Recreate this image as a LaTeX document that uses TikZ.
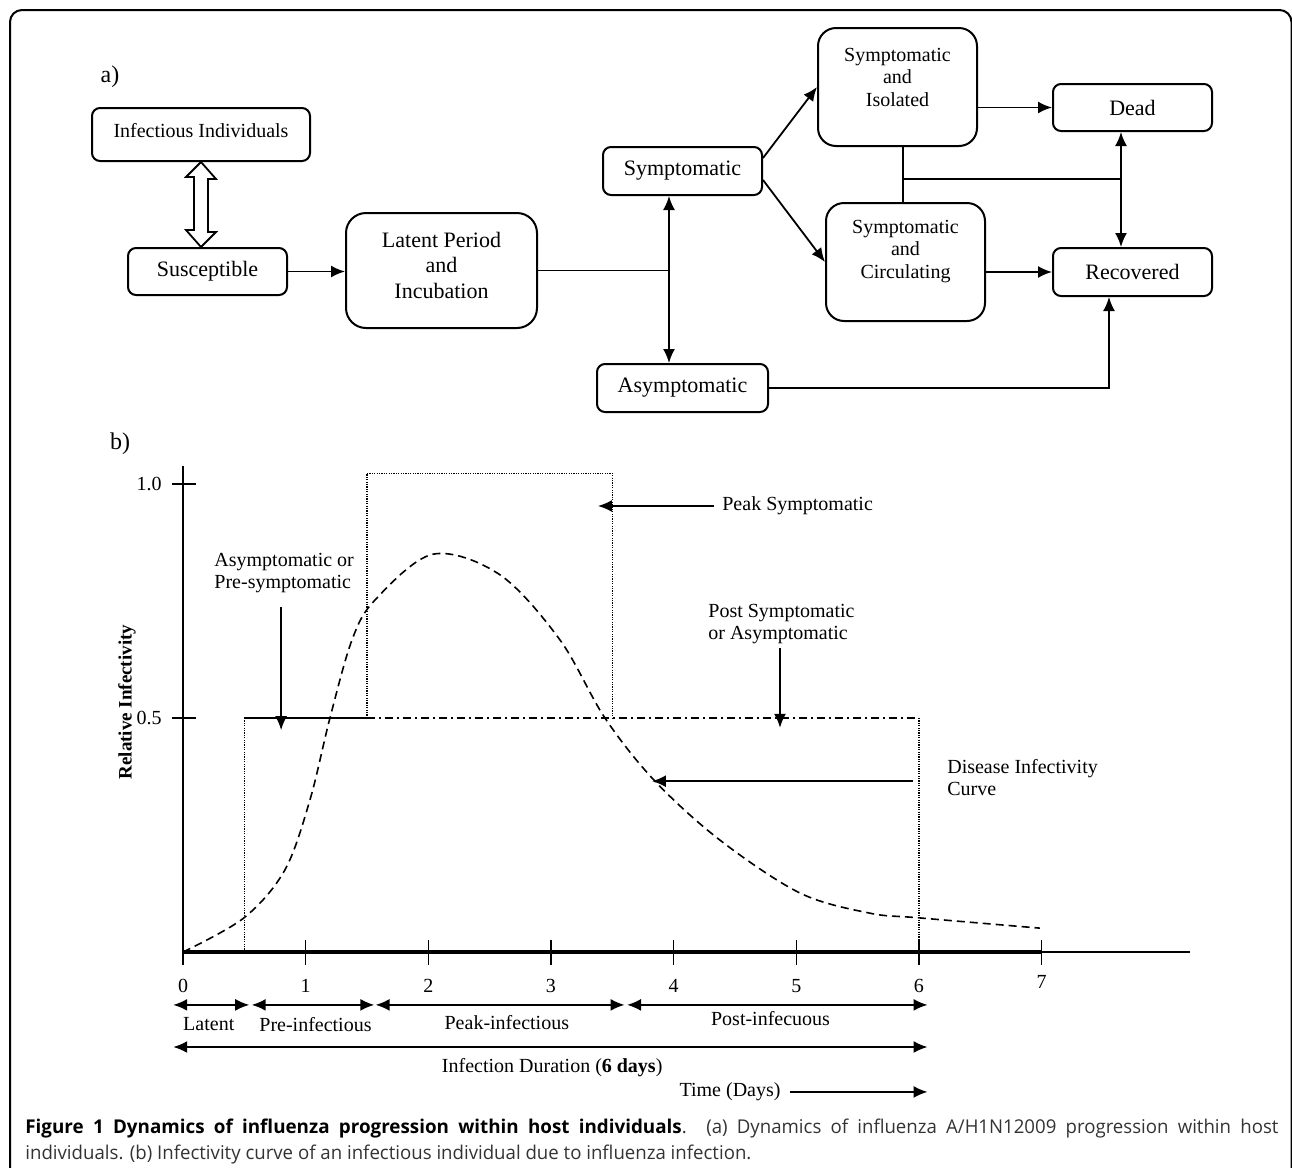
\documentclass[tikz,border=0pt]{standalone}
\usepackage{fontspec}
\setmainfont{Liberation Serif}
\newfontfamily\capfont[UprightFeatures={FakeStretch=0.98}, BoldFeatures={FakeStretch=0.99}]{Open Sans}
\usetikzlibrary{arrows.meta}
\newcommand{\padbelow}[1]{\rule[-#1]{0pt}{#1}}

\begin{document}
\begin{tikzpicture}[x=0.5pt, y=-0.5pt,
	>={Latex[length=7pt,width=6pt]},
	box/.style={draw, line width=1pt, rounded corners=4pt, align=center, inner sep=2pt, font=\fontsize{11}{12.75}\selectfont},
	tallbox/.style={box, rounded corners=9pt, minimum width=79.5pt, minimum height=59pt, font=\fontsize{10}{11.25}\selectfont},
	flow/.style={line width=0.9pt},
	span/.style={line width=0.9pt, {Latex[length=7pt,width=6pt]}-{Latex[length=7pt,width=6pt]}},
	lbl/.style={font=\fontsize{10}{11}\selectfont, align=left, inner sep=0pt},
	dots/.style={line width=0.6pt, dash pattern=on 0.6pt off 0.6pt},
	dashdots/.style={line width=0.8pt, dash pattern=on 4pt off 2pt on 1pt off 2pt},
	capline/.style={anchor=base west, inner sep=0pt, font=\capfont\fontsize{9.5}{13}\selectfont, text=black!80}]
	\useasboundingbox (0,0) rectangle (1292,1168);
	\draw[line width=1pt, rounded corners=6pt] (10,1168) -- (10,10) -- (1291.5,10) -- (1291.5,1168);

	\node[font=\fontsize{12}{14}\selectfont] (pa)at(110, 77) {a)};
	\node[box, minimum width=109pt, minimum height=26.5pt, font=\fontsize{10}{11}\selectfont] (inf)at(201, 134.5) {Infectious Individuals\padbelow{4.5pt}};
	\node[box, minimum width=79.5pt, minimum height=23.5pt] (sus)at(207.5, 271.5) {Susceptible};
	\node[box, rounded corners=10pt, minimum width=95.5pt, minimum height=57.5pt] (lat)at(441.5, 270.5) {Latent Period\\and\\Incubation\padbelow{5.5pt}};
	\node[box, minimum width=79.5pt, minimum height=24pt] (sym)at(682.5, 171) {Symptomatic};
	\node[box, minimum width=85.5pt, minimum height=24pt] (asym)at(682.5, 388) {Asymptomatic};
	\node[tallbox] (iso)at(897.5, 87) {Symptomatic\\and\\Isolated\padbelow{10pt}};
	\node[tallbox] (circ)at(905.5, 262) {Symptomatic\\and\\Circulating\padbelow{13pt}};
	\node[box, minimum width=79.5pt, minimum height=23.5pt] (dead)at(1132.5, 107.5) {Dead};
	\node[box, minimum width=79.5pt, minimum height=24pt] (rec)at(1132.5, 272) {Recovered};
	\coordinate (split)at(669, 270.5);
	\coordinate (merge)at(903, 179);
	\coordinate (fork)at(1121, 179);

	\draw[flow] (inf.south) -- ++(15,17) -- ++(-8,0) -- ++(0,53) -- ++(8,0) -- (inf.south |- sus.north) -- ++(-15,-17) -- ++(8,0) -- ++(0,-53) -- ++(-8,0) -- cycle;
	\draw[->, flow] (sus.east) -- (sus.east -| lat.west);
	\draw[flow] (lat.east) -- (split);
	\draw[<->, flow] (split |- sym.south) -- (split |- asym.north);
	\draw[->, flow] ([yshift=6.5pt]sym.east) -- (iso.west);
	\draw[->, flow] ([yshift=-4.5pt]sym.east) -- (circ.west);
	\draw[->, flow] (iso.east |- dead) -- (dead.west);
	\draw[->, flow] (circ.east |- rec) -- (rec.west);
	\draw[flow] (merge |- iso.south) -- (merge |- circ.north);
	\draw[flow] (merge) -- (fork);
	\draw[<->, flow] (fork |- dead.south) -- (fork |- rec.north);
	\draw[->, flow] (asym.east) -| ([xshift=-11.75pt]rec.south);

	\node[font=\fontsize{12}{14}\selectfont] (pb)at(120, 444) {b)};
	\begin{scope}[shift={(91.5pt,-476pt)}, x=61.33pt, y=234pt]
		\draw[line width=0.8pt] (0,1.038) -- (0,0);
		\draw[line width=1.6pt] (0,0) -- (7,0);
		\draw[line width=0.8pt] (7,0) -- (8.21,0);
		\draw[line width=0.8pt] (0,0) -- (0,-0.028);
		\foreach \d in {1,...,7}
			\draw[line width=0.8pt] (\d,0.026) -- (\d,-0.028);
		\foreach \d in {0,...,6}
			\node[lbl] (tick\d)at(\d, -0.073) {\d};
		\node[lbl] (tick7)at(7, -0.063) {7};
		\foreach \v in {0.5,1.0} {
			\draw[line width=0.8pt] (-0.09,\v) -- (0.106,\v);
			\node[lbl, anchor=east] (val\v)at(-0.171, \v) {\v};
		}
		\node[rotate=90, inner sep=0pt, font=\bfseries\fontsize{9.5}{11}\selectfont] (ylab)at(-0.456, 0.534) {Relative Infectivity};

		\draw[dots] (0.5,0) -- (0.5,0.5);
		\draw[line width=0.8pt] (0.5,0.5) -- (1.5,0.5);
		\draw[dots] (1.5,0.5) -- (1.5,1.023) -- (3.5,1.023) -- (3.5,0.5);
		\draw[dashdots] (1.5,0.5) -- (6,0.5);
		\draw[dots] (6,0.5) -- (6,0);
		\draw[line width=0.8pt, dash pattern=on 4pt off 2.5pt] plot[smooth, tension=0.55] coordinates {(0,0) (0.497,0.073) (0.83,0.175) (1.035,0.325) (1.198,0.5) (1.378,0.667) (1.565,0.752) (2.038,0.85) (2.584,0.806) (3.073,0.667) (3.44,0.5) (3.848,0.365) (4.378,0.239) (5.03,0.126) (5.6,0.083) (6,0.073) (6.986,0.051)};

		\node[lbl, anchor=west] (apre)at(0.253, 0.81) {Asymptomatic or\\Pre-symptomatic};
		\node[lbl, anchor=west] (apeak)at(4.394, 0.953) {Peak Symptomatic};
		\node[lbl, anchor=west] (apost)at(4.28, 0.701) {Post Symptomatic\\or Asymptomatic};
		\node[lbl, anchor=west] (adis)at(6.228, 0.372) {Disease Infectivity\\Curve};
		\coordinate (pretip)at(0.8, 0.474);
		\coordinate (peaktip)at(3.383, 0.953);
		\coordinate (posttip)at(4.867, 0.479);
		\coordinate (distip)at(3.823, 0.365);
		\draw[<-, flow, shorten >=7pt] (pretip) -- (pretip |- apre.south);
		\draw[<-, flow, shorten >=4pt] (peaktip) -- (peaktip -| apeak.west);
		\draw[<-, flow, shorten >=2pt] (posttip) -- (posttip |- apost.south);
		\draw[<-, flow, shorten >=17pt] (distip) -- (distip -| adis.west);

		\draw[span] (-0.08,-0.113) -- (0.54,-0.113);
		\draw[span] (0.56,-0.113) -- (1.56,-0.113);
		\draw[span] (1.57,-0.113) -- (3.6,-0.113);
		\draw[span] (3.62,-0.113) -- (6.07,-0.113);
		\node[lbl] (slat)at(0.21, -0.154) {Latent};
		\node[lbl] (spre)at(1.08, -0.154) {Pre-infectious};
		\node[lbl] (speak)at(2.64, -0.15) {Peak-infectious};
		\node[lbl] (spost)at(4.79, -0.143) {Post-infecuous};
		\draw[span] (-0.08,-0.203) -- (6.07,-0.203);
		\node[lbl] (dur)at(3.01, -0.248) {Infection Duration (\textbf{6 days})};
		\node[lbl] (tdays)at(4.46, -0.299) {Time (Days)};
		\draw[->, line width=0.9pt] ([xshift=4.5pt]tdays.east) -- (6.07,-0.299);
	\end{scope}

	\node[capline] (cap1)at(25, 1133) {\hbox to 626.5pt{\textcolor{black}{\bfseries Figure 1 Dynamics of influenza progression within host individuals}. (a) Dynamics of influenza A/H1N12009 progression within host}};
	\node[capline] (cap2)at(25, 1159) {individuals. (b) Infectivity curve of an infectious individual due to influenza infection.};
\end{tikzpicture}
\end{document}
